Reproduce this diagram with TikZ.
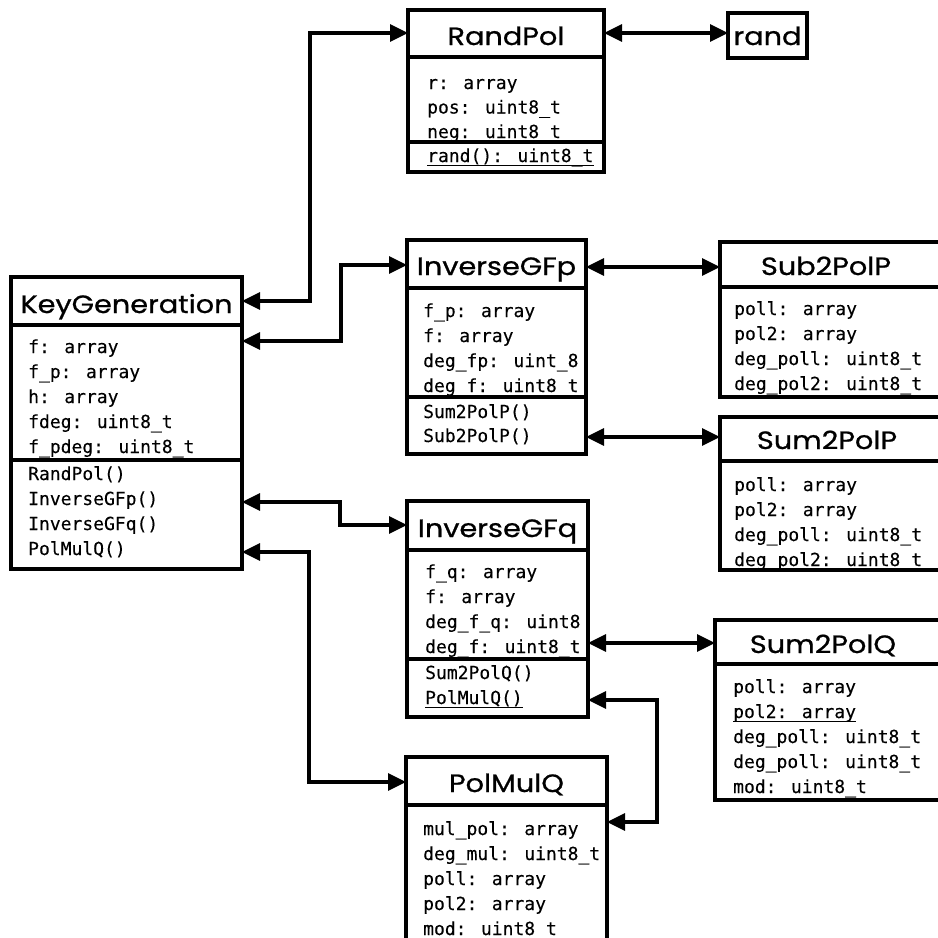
\documentclass[tikz,border=0pt]{standalone}
\usepackage{fontspec}
\usetikzlibrary{arrows.meta}
\newfontfamily\titlefont[FakeStretch=1.15,FakeBold=0.8]{Poppins}
\newfontfamily\monofont[FakeBold=0.2]{DejaVu Sans Mono}
\tikzset{
  box/.style={draw, line width=3.3pt, inner sep=0pt, outer sep=0pt, fill=white},
  divider/.style={line width=3.3pt},
  ttl/.style={anchor=base, inner sep=0pt, font=\titlefont\fontsize{25}{30}\selectfont},
  mono/.style={anchor=base west, inner sep=0pt, font=\monofont\fontsize{18}{22}\selectfont},
  ulstyle/.style={line width=1.4pt},
  conn/.style={line width=3.3pt, {Triangle[length=18pt,width=17pt]}-{Triangle[length=18pt,width=17pt]}},
}
\newcommand\compart[5]{%
  \foreach \t [count=\i] in {#5} {\node[mono] (#1-\i) at (#2,{#3+#4*(\i-1)}) {\t};}}
\newcommand\ulnode[1]{\draw[ulstyle] ([yshift=-3.5pt]#1.base west) -- ([yshift=-3.5pt]#1.base east);}
\begin{document}
\begin{tikzpicture}[x=1pt,y=-1pt]
\useasboundingbox (0,0) rectangle (938,938);
\clip (0,0) rectangle (938,938);
\fill[white] (0,0) rectangle (938,938);

% ---------- boxes ----------
\node[box, minimum width=196pt, minimum height=162pt] (randpol) at (506,91) {};
\node[box, minimum width=79pt, minimum height=45pt] (rand) at (767.5,35.5) {};
\node[box, minimum width=231pt, minimum height=292pt] (keygen) at (126.5,423) {};
\node[box, minimum width=179pt, minimum height=214pt] (invp) at (496.5,347) {};
\node[box, minimum width=225pt, minimum height=155pt] (sub2p) at (832.5,319.5) {};
\node[box, minimum width=225pt, minimum height=153pt] (sum2p) at (832.5,493.5) {};
\node[box, minimum width=181pt, minimum height=216pt] (invq) at (497.5,609) {};
\node[box, minimum width=230pt, minimum height=180pt] (sum2q) at (830,710) {};
\node[box, minimum width=201pt, minimum height=203pt] (polmul) at (506.5,858.5) {};

% ---------- titles ----------
\node[ttl] (randpol-t) at (506,45) {RandPol};
\node[ttl] (rand-t) at (767.5,45) {rand};
\node[ttl] (keygen-t) at (126.5,313) {KeyGeneration};
\node[ttl] (invp-t) at (496.5,275) {InverseGFp};
\node[ttl] (sub2p-t) at (826,275) {Sub2PolP};
\node[ttl] (sum2p-t) at (827,449) {Sum2PolP};
\node[ttl] (invq-t) at (497.5,537) {InverseGFq};
\node[ttl] (sum2q-t) at (823,653) {Sum2PolQ};
\node[ttl] (polmul-t) at (506.5,792) {PolMulQ};

% ---------- compartments ----------
\begin{scope}
  \clip (408,57) rectangle (604,142);
  \compart{randpol-a}{427}{89}{24.5}{r: array,pos: uint8\_t,neg: uint8\_t}
\end{scope}
\begin{scope}
  \clip (408,142) rectangle (604,172);
  \compart{randpol-m}{427}{162}{24}{rand(): uint8\_t}
\end{scope}
\ulnode{randpol-m-1}

\begin{scope}
  \clip (11,325) rectangle (242,460);
  \compart{keygen-a}{28}{353}{25}{f: array,f\_p: array,h: array,fdeg: uint8\_t,f\_pdeg: uint8\_t}
\end{scope}
\compart{keygen-m}{28}{480}{25}{RandPol(),InverseGFp(),InverseGFq(),PolMulQ()}

\begin{scope}
  \clip (407,288) rectangle (586,397);
  \compart{invp-a}{423}{317}{25}{f\_p: array,f: array,deg\_fp: uint\_8,deg\_f: uint8\_t}
\end{scope}
\compart{invp-m}{423}{418}{24}{Sum2PolP(),Sub2PolP()}

\begin{scope}
  \clip (720,287) rectangle (945,397);
  \compart{sub2p-a}{734}{315}{25}{poll: array,pol2: array,deg\_poll: uint8\_t,deg\_pol2: uint8\_t}
\end{scope}
\begin{scope}
  \clip (720,461) rectangle (945,570);
  \compart{sum2p-a}{734}{491}{25}{poll: array,pol2: array,deg\_poll: uint8\_t,deg\_pol2: uint8\_t}
\end{scope}

\begin{scope}
  \clip (407,550) rectangle (588,659);
  \compart{invq-a}{425}{578}{25}{f\_q: array,f: array,deg\_f\_q: uint8,deg\_f: uint8\_t}
\end{scope}
\compart{invq-m}{425}{679}{25}{Sum2PolQ(),PolMulQ()}
\ulnode{invq-m-2}

\begin{scope}
  \clip (715,664) rectangle (945,800);
  \compart{sum2q-a}{733}{693}{25}{poll: array,pol2: array,deg\_poll: uint8\_t,deg\_poll: uint8\_t,mod: uint8\_t}
\end{scope}
\ulnode{sum2q-a-2}

\compart{polmul-a}{423}{835}{25}{mul\_pol: array,deg\_mul: uint8\_t,poll: array,pol2: array,mod: uint8\_t}

% ---------- dividers ----------
\draw[divider] (randpol.west |- 0,57) -- (randpol.east |- 0,57);
\draw[divider] (randpol.west |- 0,142) -- (randpol.east |- 0,142);
\draw[divider] (keygen.west |- 0,325) -- (keygen.east |- 0,325);
\draw[divider] (keygen.west |- 0,460) -- (keygen.east |- 0,460);
\draw[divider] (invp.west |- 0,288) -- (invp.east |- 0,288);
\draw[divider] (invp.west |- 0,397) -- (invp.east |- 0,397);
\draw[divider] (sub2p.west |- 0,287) -- (sub2p.east |- 0,287);
\draw[divider] (sum2p.west |- 0,461) -- (sum2p.east |- 0,461);
\draw[divider] (invq.west |- 0,550) -- (invq.east |- 0,550);
\draw[divider] (invq.west |- 0,659) -- (invq.east |- 0,659);
\draw[divider] (sum2q.west |- 0,664) -- (sum2q.east |- 0,664);
\draw[divider] (polmul.west |- 0,805) -- (polmul.east |- 0,805);

% ---------- connectors ----------
\draw[conn] (keygen.east |- 0,301) -| (310,167) |- (randpol.west |- 0,33);
\draw[conn] (keygen.east |- 0,341) -| (341,300) |- (invp.west |- 0,265);
\draw[conn] (keygen.east |- 0,502) -| (340,513) |- (invq.west |- 0,525);
\draw[conn] (keygen.east |- 0,552) -| (309,700) |- (polmul.west |- 0,782);
\draw[conn] (randpol.east |- 0,33) -- (rand.west |- 0,33);
\draw[conn] (invp.east |- 0,267) -- (sub2p.west |- 0,267);
\draw[conn] (invp.east |- 0,437) -- (sum2p.west |- 0,437);
\draw[conn] (invq.east |- 0,643) -- (sum2q.west |- 0,643);
\draw[conn] (invq.east |- 0,700) -| (657,760) |- (polmul.east |- 0,822);
\end{tikzpicture}
\end{document}
